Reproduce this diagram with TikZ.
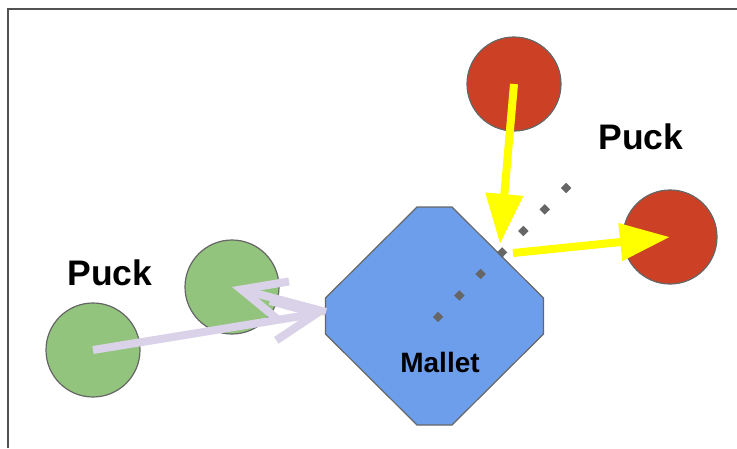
\documentclass[tikz,border=0pt]{standalone}
\usepackage{fontspec}
\setmainfont{Liberation Sans}
\usetikzlibrary{arrows.meta}
\definecolor{puckgreen}{HTML}{93C47D}
\definecolor{puckred}{HTML}{CC4125}
\definecolor{malletblue}{HTML}{6D9EEB}
\definecolor{edgegray}{HTML}{666666}
\definecolor{hitlilac}{HTML}{D9D2E9}
\definecolor{hityellow}{HTML}{FFFF00}

\begin{document}
\begin{tikzpicture}[x=1pt,y=-1pt,
  puck/.style={circle, draw=edgegray, line width=1.2pt, minimum size=94pt, inner sep=0pt},
  tag/.style={font=\fontsize{35.5}{40}\selectfont\bfseries},
  push/.style={hitlilac, line width=8pt, -{Straight Barb[length=44pt,width=40pt]}},
  shot/.style={hityellow, line width=8pt, -{Triangle[length=50pt,width=36pt]}},
  track/.style={edgegray, line width=7.4pt, dash pattern=on 7.4pt off 22.9pt}]
\useasboundingbox (0,0) rectangle (737,448);

% Frame (top and left edges only)
\draw[edgegray!80!black, line width=1.5pt] (8,448) -- (8,9) -- (737,9);

% Pucks: green before/after, red before/after
\node[puck, fill=puckgreen] (start) at (93,350) {};
\node[puck, fill=puckgreen] (back) at (232,287) {};
\node[puck, fill=puckred] (drop) at (514,84) {};
\node[puck, fill=puckred] (away) at (670,237) {};

\node[tag] (lefttag) at (110,273) {Puck};
\node[tag] (righttag) at (641,137) {Puck};

% Mallet: octagon with short flat sides
\coordinate (mallet) at (434.5,316);
\draw[fill=malletblue, draw=edgegray, line width=1.2pt]
  (mallet) ++(-17.5,-109) -- ++(35,0) -- ++(91.5,91) -- ++(0,36)
  -- ++(-91.5,91) -- ++(-35,0) -- ++(-91.5,-91) -- ++(0,-36) -- cycle;
\node[tag, font=\fontsize{28}{32}\selectfont\bfseries] (mallettag) at (440,362) {Mallet};

% Mallet path (diamond dots)
\draw[track] (435.4,319.6) -- (569,185);

% Contact points
\coordinate (face) at (326,312);
\coordinate (impact) at (500,244);
\coordinate (rebound) at (513,253);

% Green puck bounces back off the flat face
\draw[push] (start.center) -- (face);
\draw[push] (face) -- (back.center);

% Red puck deflected off the moving edge
\draw[shot] (drop.center) -- (impact);
\draw[shot] (rebound) -- (away.center);

\end{tikzpicture}
\end{document}
